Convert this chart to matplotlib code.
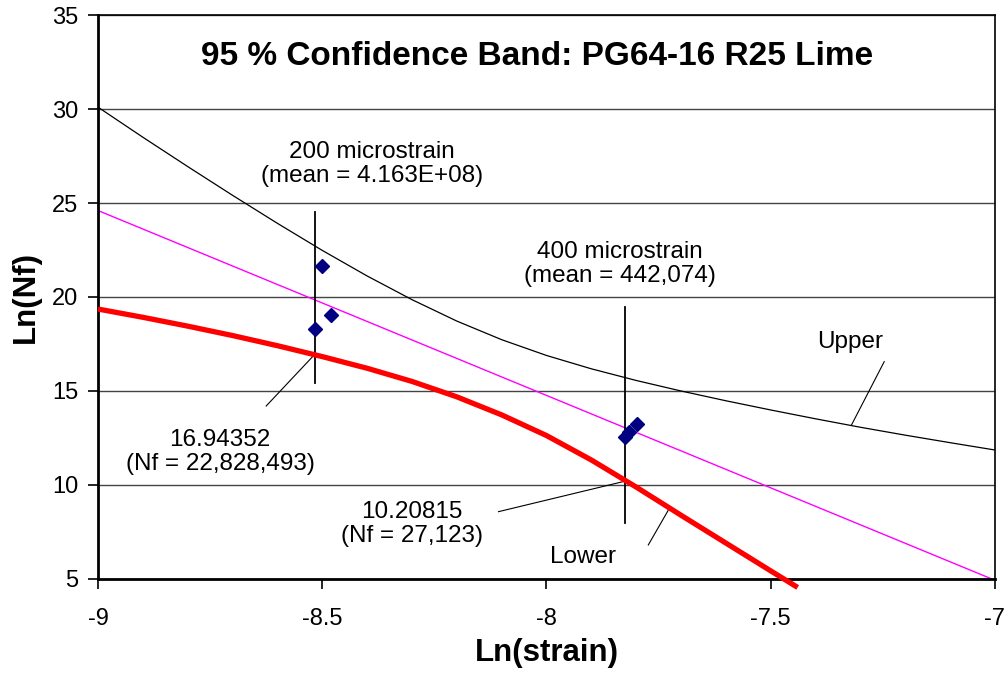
import matplotlib
matplotlib.use('Agg')
import matplotlib.pyplot as plt

plt.rcParams['font.family'] = ['Liberation Sans', 'DejaVu Sans']

# ln(strain) positions where the band curves were sampled
band_x = [-9.0, -8.9, -8.8, -8.7, -8.6, -8.5, -8.4, -8.3, -8.2, -8.1, -8.0,
          -7.9, -7.8, -7.7, -7.6, -7.5, -7.4, -7.3, -7.2, -7.1, -7.0]
upper_y = [30.1, 28.5, 26.94, 25.41, 23.92, 22.48, 21.12, 19.86, 18.72, 17.73, 16.89,
           16.18, 15.56, 15.0, 14.48, 13.99, 13.52, 13.07, 12.65, 12.25, 11.86]

lower_x = [-9.0, -8.9, -8.8, -8.7, -8.6, -8.5, -8.4, -8.3, -8.2, -8.1, -8.0,
           -7.9, -7.8, -7.7, -7.6, -7.5, -7.44]
lower_y = [19.36, 18.92, 18.45, 17.95, 17.41, 16.83, 16.21, 15.51, 14.69, 13.73, 12.63,
           11.33, 9.89, 8.39, 6.91, 5.43, 4.55]

# regression line
fit_x = [-9.0, -7.0]
fit_y = [24.6, 4.93]

# test results, ln(strain) vs ln(Nf)
pts_x = [-8.501, -8.480, -8.516, -7.826, -7.815, -7.799]
pts_y = [21.66, 19.04, 18.30, 12.57, 12.83, 13.23]

# vertical markers at 200 and 400 microstrain
v200_x = -8.517
v200_y = [15.45, 24.5]
v400_x = -7.824
v400_y = [7.97, 19.48]

fig = plt.figure(figsize=(10.08, 6.77), dpi=100)
ax = fig.add_axes([0.0972, 0.1448, 0.8899, 0.8330])

ax.set_xlim(-9, -7)
ax.set_ylim(5, 35)
ax.set_xticks([-9, -8.5, -8, -7.5, -7])
ax.set_xticklabels(['-9', '-8.5', '-8', '-7.5', '-7'])
ax.set_yticks([5, 10, 15, 20, 25, 30, 35])
ax.tick_params(labelsize=17, length=7, width=1.2, direction='out', pad=7)
ax.tick_params(axis='x', pad=14)
ax.grid(axis='y', color='#444444', linewidth=1.0)
ax.set_axisbelow(True)
for side in ['left', 'bottom']:
    ax.spines[side].set_linewidth(2)
for side in ['top', 'right']:
    ax.spines[side].set_linewidth(1.2)

ax.plot(band_x, upper_y, color='black', linewidth=0.9)
ax.plot(fit_x, fit_y, color='#FF00FF', linewidth=1.0)
ax.plot(lower_x, lower_y, color='#FF0000', linewidth=3.8, clip_on=False,
        solid_capstyle='butt', zorder=3)
ax.plot([v200_x, v200_x], v200_y, color='black', linewidth=1.3)
ax.plot([v400_x, v400_x], v400_y, color='black', linewidth=1.3)
ax.plot(pts_x, pts_y, linestyle='none', marker='D', markersize=7.5,
        color='#000080', zorder=4)

ax.text(-8.021, 32.8, '95 % Confidence Band: PG64-16 R25 Lime',
        ha='center', va='center', fontsize=24, fontweight='bold')

note = dict(ha='center', va='center', fontsize=17.5, linespacing=1.15)
ax.text(-8.39, 27.07, '200 microstrain\n(mean = 4.163E+08)', **note)
ax.text(-7.836, 21.75, '400 microstrain\n(mean = 442,074)', **note)
ax.text(-8.728, 11.76, '16.94352\n(Nf = 22,828,493)', **note)
ax.text(-8.30, 7.93, '10.20815\n(Nf = 27,123)', **note)
ax.text(-7.323, 17.6, 'Upper', **note)
ax.text(-7.919, 6.17, 'Lower', **note)

# leader lines from labels to the curves
ax.plot([-8.625, -8.517], [14.2, 16.94], color='black', linewidth=0.8)
ax.plot([-8.107, -7.824], [8.58, 10.208], color='black', linewidth=0.8)
ax.plot([-7.247, -7.320], [16.56, 13.19], color='black', linewidth=0.8)
ax.plot([-7.773, -7.726], [6.81, 8.76], color='black', linewidth=0.8)

ax.set_xlabel('Ln(strain)', fontsize=22.5, fontweight='bold', labelpad=6)
ax.set_ylabel('Ln(Nf)', fontsize=22.5, fontweight='bold', labelpad=8)

fig.savefig('out.png', dpi=100)
